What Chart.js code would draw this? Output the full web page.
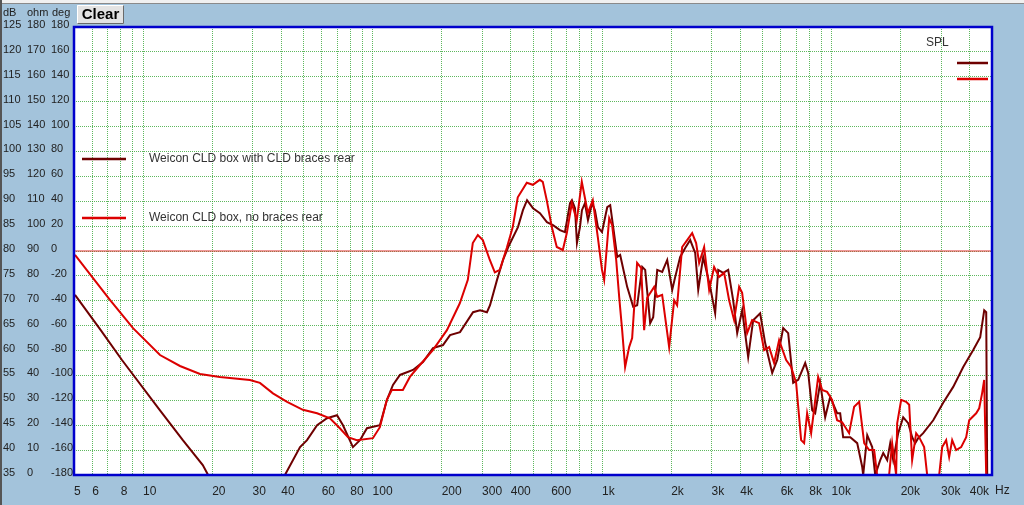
<!DOCTYPE html>
<html>
<head>
<meta charset="utf-8">
<script src="https://cdn.jsdelivr.net/npm/chart.js@4.4.0/dist/chart.umd.min.js"></script>
<style>
html,body{margin:0;padding:0;background:#a3c3db;}
#wrap{width:1024px;height:505px;}
</style>
</head>
<body>
<div id="wrap"><canvas id="spl" width="1024" height="505"></canvas></div>
<script>
// tick labels
const dbTicks = [125,120,115,110,105,100,95,90,85,80,75,70,65,60,55,50,45,40,35];
const ohmTicks = [180,170,160,150,140,130,120,110,100,90,80,70,60,50,40,30,20,10,0];
const degTicks = [180,160,140,120,100,80,60,40,20,0,-20,-40,-60,-80,-100,-120,-140,-160,-180];
const freqGrid = [5,6,7,8,9,10,20,30,40,50,60,70,80,90,100,200,300,400,500,600,700,800,900,
  1000,2000,3000,4000,5000,6000,7000,8000,9000,10000,20000,30000,40000,50000];
const freqLabelVals = [5,6,8,10,20,30,40,60,80,100,200,300,400,600,1000,2000,3000,4000,6000,8000,10000,20000,30000,40000];
const freqLabels = ['5','6','8','10','20','30','40','60','80','100','200','300','400','600','1k','2k','3k','4k','6k','8k','10k','20k','30k','40k'];

const seriesNames = ['Weicon CLD box with CLD braces rear', 'Weicon CLD box, no braces rear'];

// with CLD braces (dark red)
const braceFreq = [5.05,6.49,8.09,11.85,14.9,18.2,19.2,41.5,48.3,51.8,
  57.3,63.3,70,74.3,82.1,88.1,94.5,107.6,115.5,122.7,
  131.6,150,165.8,183.3,202.7,217.5,240.4,274,293.8,315,
  324.9,348.5,370.2,390,430,452,471,500,536,575,
  611,655,689,725,739,762,777,801,817,842,
  868,904,931,959,999,1053,1085,1118,1164,1199,
  1286,1366,1422,1496,1541,1620,1670,1739,1828,1922,
  2021,2083,2189,2302,2421,2545,2624,2758,2958,3110,
  3206,3371,3544,3726,3879,4078,4331,4554,4884,5135,
  5511,5794,6153,6470,6803,7153,7674,7910,8232,8483,
  8919,9378,9860,10580,10900,11230,12060,12930,13600,13730,
  14300,15030,15490,16290,16790,17470,18010,18560,19510,20510,
  21570,22450,23130,23840,25070,27730,30640,33880,37460,41410,
  44430,46240,47180,47650];
const braceSpl = [71.2,64.3,58.1,48,42,37,35,35,40.6,42,
  45,46.4,47,45,40.6,42,44.4,45,50.1,53.1,
  55.1,56.1,57.7,60.5,61.1,63.1,63.7,67.7,68.1,67.7,
  69.1,74.2,78.2,80.8,84.8,88.2,90.2,88.6,87.6,85.8,
  85.2,84.2,83.8,89.6,90.2,88.6,81.6,84.8,88.2,89.6,
  86.2,89.6,88.2,84.8,83.8,88.8,89.2,84.8,78.8,79.2,
  72.8,68.8,69.1,76.8,76.2,65.5,66.7,76.2,75.8,78.2,
  72.2,74.8,78.8,80.6,82.2,79.6,72.2,78.8,72.8,67.5,
  76.2,75.6,76.2,70.1,63.5,68.1,58.7,66.1,67.5,61.5,
  55.5,58.1,64.5,63.5,53.5,54.1,57.5,55.5,48,47.4,
  53.5,46.6,50.7,47.4,47.4,42.6,42.6,41.4,36.6,35,
  43,40.6,35,38,39.4,38,41.4,38,43.4,46.6,
  45.4,42.6,41.4,42.4,43.4,46,49.5,52.7,56.7,60.1,
  62.7,68.1,67.7,35];

// no braces (red)
const noBraceFreq = [5.05,7.17,9.04,11.85,14.48,17.7,21.6,29.2,32.3,36.8,
  42.4,49.7,57.3,65.2,72,78.1,85.4,100.3,107.6,115.4,
  121.4,135.5,145.4,160.7,183.1,210.8,239.9,260,273.3,287.4,
  302.2,324.2,340.9,358.4,384.3,408.1,429.1,469.8,499,535.2,
  551.5,574,603.8,634.7,674.3,702,737.9,775.9,815.8,840.8,
  866.5,911,958,999,1021,1074,1106,1152,1187,1223,
  1260,1312,1352,1421,1480,1525,1572,1686,1738,1827,
  1960,2061,2123,2233,2348,2469,2569,2648,2784,2928,
  3077,3236,3402,3577,3762,3955,4076,4286,4506,4833,
  5082,5344,5618,5907,6339,6664,7007,7367,7592,7824,
  8145,8738,9094,9561,10050,10570,11120,11920,12540,13190,
  13870,14580,15330,15790,17810,18360,19110,19310,20100,21130,
  21780,22440,23360,24070,25310,26090,29430,30330,31570,32530,
  33530,34900,36690,38590,39770,42660,43970,45310,46230,47170,49590];
const noBraceSpl = [79.2,70.2,64.5,59.1,56.9,55.3,54.7,54.1,53.5,51.4,
  49.7,48.1,47.4,46.4,44.4,42.6,42,42.4,44.6,50.1,
  52.1,52.1,54.7,57.1,60.1,64.1,69.5,74.2,81.6,83.2,
  82.2,78.2,75.7,76.2,80.6,84.8,90.8,93.7,93.3,94.3,
  93.9,90.2,84.8,80.8,80.2,83.6,89.6,86.2,93.9,90.8,
  87.6,90.2,82.8,76.2,74.2,86.6,85.2,78.2,70.8,64.1,
  56.7,60.7,62.5,77.6,76.6,64.1,70.6,72.8,70.8,71.2,
  60.7,70.1,69.1,80.8,82.2,83.6,81.6,77.6,80.8,72.2,
  76.8,74.8,75.6,70.1,66.1,72.8,71.6,63.5,66.1,65.5,
  60.1,60.7,57.5,62.1,58.1,56.7,53.5,42,41.4,47.4,
  43.4,54.7,52.1,51.7,50.1,46,45.6,43.4,48.7,49.7,
  41.4,40,40,35,35,41.4,35,45.4,50.1,49.7,
  49.1,38,43.4,42.6,40.6,35,35,40.6,42,38.6,
  42,40,40.6,42.6,46,47.4,48.4,51.5,54.1,35,35];

const refLevel = 80;

const darkRed = '#6e0000';
const red = '#dc0000';
const panelBlue = '#a3c3db';
const tickFont = {family: "'Liberation Sans', Arial, sans-serif", size: 12};
const yTickFont = {family: "'Liberation Sans', Arial, sans-serif", size: 11};

function zip(xs, ys){
  return xs.map((x, i) => ({x: x, y: ys[i]}));
}

const decorPlugin = {
  id: 'decor',
  beforeDraw(chart){
    const c = chart.ctx, a = chart.chartArea;
    c.save();
    c.fillStyle = panelBlue;
    c.fillRect(0, 0, chart.width, chart.height);
    c.fillStyle = '#f0f0f0';
    c.fillRect(0, 0, chart.width, 3);
    c.fillStyle = '#8a8a8a';
    c.fillRect(0, 3, chart.width, 1);
    c.fillStyle = '#555';
    c.fillRect(0, 0, 2, chart.height);
    c.fillStyle = '#fff';
    c.fillRect(a.left, a.top, a.right - a.left, a.bottom - a.top);
    c.restore();
  },
  afterDraw(chart){
    const c = chart.ctx, a = chart.chartArea;
    c.save();
    // plot frame
    c.strokeStyle = '#0000cc';
    c.lineWidth = 2.5;
    c.strokeRect(a.left, a.top, a.right - a.left, a.bottom - a.top);

    // header + clear button
    c.font = "11px 'Liberation Sans', Arial, sans-serif";
    c.fillStyle = '#222';
    c.textBaseline = 'middle';
    c.fillText('dB', 3, 13);
    c.fillText('ohm', 27, 13);
    c.fillText('deg', 52, 13);

    c.fillStyle = '#e3e3e3';
    c.fillRect(77, 5, 47, 19);
    c.strokeStyle = '#fff';
    c.lineWidth = 1;
    c.beginPath(); c.moveTo(77.5, 23.5); c.lineTo(77.5, 5.5); c.lineTo(123.5, 5.5); c.stroke();
    c.strokeStyle = '#6a6a6a';
    c.beginPath(); c.moveTo(123.5, 5.5); c.lineTo(123.5, 23.5); c.lineTo(77.5, 23.5); c.stroke();
    c.fillStyle = '#000';
    c.font = "bold 15px 'Liberation Sans', Arial, sans-serif";
    c.textAlign = 'center';
    c.fillText('Clear', 100.5, 15);

    // Hz unit
    c.textAlign = 'left';
    c.font = "12px 'Liberation Sans', Arial, sans-serif";
    c.fillStyle = '#222';
    c.fillText('Hz', 995, 491);

    // legend
    const cols = [darkRed, red];
    const ys = [159, 218];
    c.lineWidth = 2.5;
    seriesNames.forEach((name, i) => {
      c.strokeStyle = cols[i];
      c.beginPath(); c.moveTo(82, ys[i]); c.lineTo(126, ys[i]); c.stroke();
      c.fillStyle = '#333';
      c.fillText(name, 149, ys[i]);
    });

    // SPL key
    c.fillStyle = '#333';
    c.fillText('SPL', 926, 43);
    [63, 79].forEach((y, i) => {
      c.strokeStyle = cols[i];
      c.beginPath(); c.moveTo(957, y); c.lineTo(988, y); c.stroke();
    });
    c.restore();
  }
};

new Chart(document.getElementById('spl'), {
  type: 'line',
  data: {
    datasets: [{
      label: seriesNames[0],
      data: zip(braceFreq, braceSpl),
      borderColor: darkRed,
      borderWidth: 2,
      pointRadius: 0,
      tension: 0,
      order: 2
    }, {
      label: seriesNames[1],
      data: zip(noBraceFreq, noBraceSpl),
      borderColor: red,
      borderWidth: 2,
      pointRadius: 0,
      tension: 0,
      order: 1
    }, {
      label: 'ref',
      data: [{x: freqGrid[0], y: refLevel}, {x: freqGrid[freqGrid.length - 1], y: refLevel}],
      borderColor: '#e03030',
      borderWidth: 1.2,
      pointRadius: 0,
      order: 3
    }]
  },
  options: {
    responsive: false,
    animation: false,
    devicePixelRatio: 1,
    layout: {padding: {left: 3, top: 27, right: 32, bottom: 0}},
    plugins: {
      legend: {display: false},
      tooltip: {enabled: false},
      title: {display: false}
    },
    scales: {
      x: {
        type: 'logarithmic',
        min: 5,
        max: 50000,
        afterBuildTicks: s => { s.ticks = freqGrid.map(v => ({value: v})); },
        afterFit: s => { s.height = 30; },
        grid: {color: 'rgba(40,160,40,0.75)', lineWidth: 1, drawTicks: false},
        border: {display: false, dash: [1, 1]},
        ticks: {
          autoSkip: false,
          maxRotation: 0,
          align: 'start',
          padding: 9,
          color: '#222',
          font: tickFont,
          callback: v => {
            const k = freqLabelVals.indexOf(v);
            return k >= 0 ? freqLabels[k] : '';
          }
        }
      },
      y: {
        type: 'linear',
        position: 'left',
        weight: 3,
        min: 35,
        max: 125,
        afterBuildTicks: s => { s.ticks = dbTicks.map(v => ({value: v})); },
        afterFit: s => { s.width = 24; },
        grid: {color: 'rgba(40,160,40,0.75)', lineWidth: 1, drawTicks: false},
        border: {display: false, dash: [1, 1]},
        ticks: {crossAlign: 'far', padding: 0, labelOffset: -2, color: '#222', font: yTickFont}
      },
      yOhm: {
        type: 'linear',
        position: 'left',
        weight: 2,
        min: 0,
        max: 180,
        afterBuildTicks: s => { s.ticks = ohmTicks.map(v => ({value: v})); },
        afterFit: s => { s.width = 24; },
        grid: {display: false, drawTicks: false},
        border: {display: false},
        ticks: {crossAlign: 'far', padding: 0, labelOffset: -2, color: '#222', font: yTickFont}
      },
      yDeg: {
        type: 'linear',
        position: 'left',
        weight: 1,
        min: -180,
        max: 180,
        afterBuildTicks: s => { s.ticks = degTicks.map(v => ({value: v})); },
        afterFit: s => { s.width = 23; },
        grid: {display: false, drawTicks: false},
        border: {display: false},
        ticks: {crossAlign: 'far', padding: 0, labelOffset: -2, color: '#222', font: yTickFont}
      }
    }
  },
  plugins: [decorPlugin]
});
</script>
</body>
</html>
